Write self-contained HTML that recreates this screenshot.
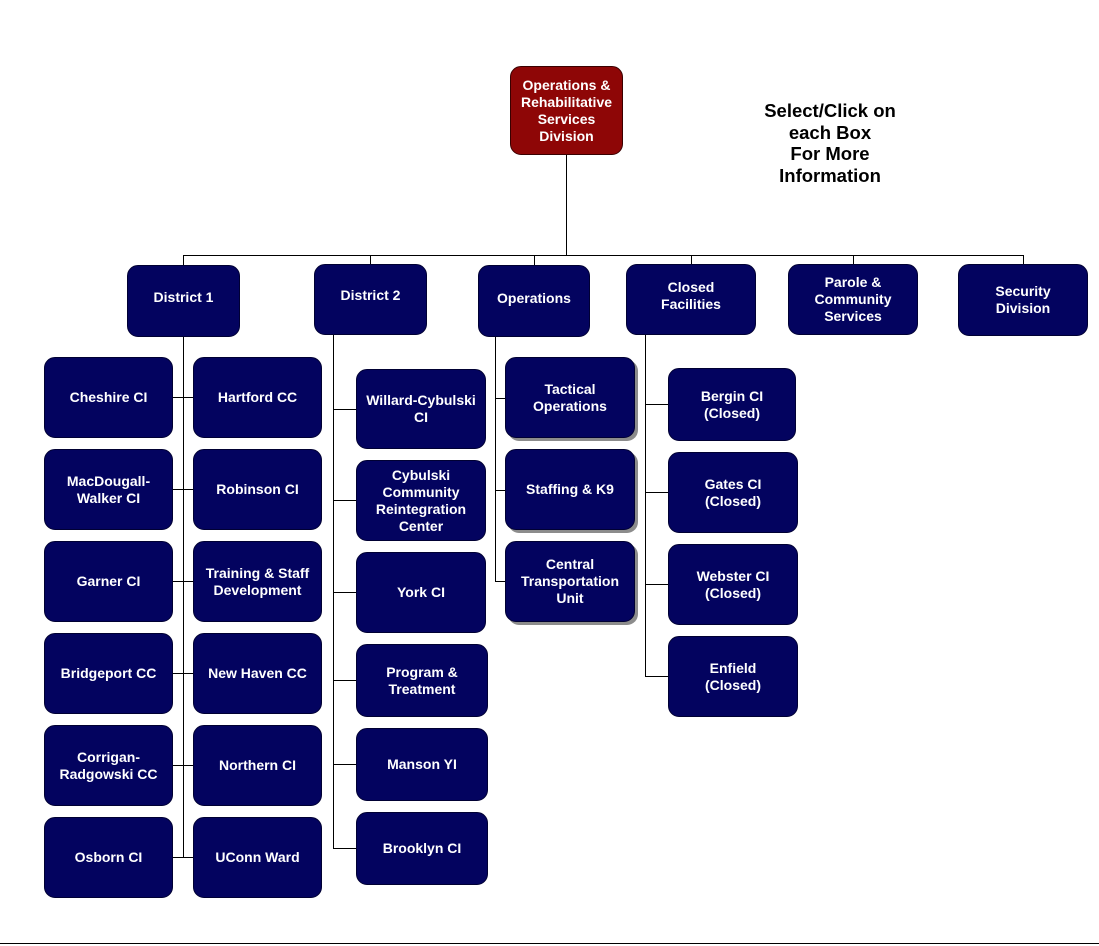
<!DOCTYPE html>
<html><head><style>
body{margin:0;width:1099px;height:946px;background:#fff;position:relative;overflow:hidden;font-family:"Liberation Sans",Arial,sans-serif}
.b{position:absolute;background:#03035f;color:#fff;border-radius:11px;display:flex;align-items:center;justify-content:center;text-align:center;font-weight:bold;font-size:14px;line-height:17px;box-sizing:border-box;border:1px solid #000033}
.s{box-shadow:3px 3px 0 #8c8c8c}
.l{position:absolute;background:#000}
.t{position:absolute;left:738px;top:100px;width:184px;text-align:center;font-weight:bold;font-size:18.5px;line-height:21.5px;color:#000}
</style></head><body>
<div class="l" style="left:566px;top:155px;width:1px;height:100px"></div>
<div class="l" style="left:183px;top:255px;width:841px;height:1px"></div>
<div class="l" style="left:183px;top:255px;width:1px;height:10px"></div>
<div class="l" style="left:370px;top:255px;width:1px;height:10px"></div>
<div class="l" style="left:534px;top:255px;width:1px;height:10px"></div>
<div class="l" style="left:691px;top:255px;width:1px;height:10px"></div>
<div class="l" style="left:853px;top:255px;width:1px;height:10px"></div>
<div class="l" style="left:1023px;top:255px;width:1px;height:10px"></div>
<div class="l" style="left:183px;top:337px;width:1px;height:521px"></div>
<div class="l" style="left:173px;top:397px;width:20px;height:1px"></div>
<div class="l" style="left:173px;top:489px;width:20px;height:1px"></div>
<div class="l" style="left:173px;top:581px;width:20px;height:1px"></div>
<div class="l" style="left:173px;top:673px;width:20px;height:1px"></div>
<div class="l" style="left:173px;top:765px;width:20px;height:1px"></div>
<div class="l" style="left:173px;top:857px;width:20px;height:1px"></div>
<div class="l" style="left:333px;top:335px;width:1px;height:514px"></div>
<div class="l" style="left:333px;top:409px;width:23px;height:1px"></div>
<div class="l" style="left:333px;top:500px;width:23px;height:1px"></div>
<div class="l" style="left:333px;top:592px;width:23px;height:1px"></div>
<div class="l" style="left:333px;top:680px;width:23px;height:1px"></div>
<div class="l" style="left:333px;top:764px;width:23px;height:1px"></div>
<div class="l" style="left:333px;top:848px;width:23px;height:1px"></div>
<div class="l" style="left:495px;top:337px;width:1px;height:244px"></div>
<div class="l" style="left:495px;top:398px;width:10px;height:1px"></div>
<div class="l" style="left:495px;top:490px;width:10px;height:1px"></div>
<div class="l" style="left:495px;top:581px;width:10px;height:1px"></div>
<div class="l" style="left:645px;top:335px;width:1px;height:342px"></div>
<div class="l" style="left:645px;top:404px;width:23px;height:1px"></div>
<div class="l" style="left:645px;top:492px;width:23px;height:1px"></div>
<div class="l" style="left:645px;top:584px;width:23px;height:1px"></div>
<div class="l" style="left:645px;top:676px;width:23px;height:1px"></div>
<div class="l" style="left:0;top:943px;width:1099px;height:1px"></div>

<div class="b" style="left:510px;top:66px;width:113px;height:89px;background:#8e0606;border:1px solid #3a0000">Operations &amp;<br>Rehabilitative<br>Services<br>Division</div>
<div class="t">Select/Click on<br>each Box<br>For More<br>Information</div>

<div class="b" style="left:127px;top:265px;width:113px;height:72px;padding-bottom:8px">District 1</div>
<div class="b" style="left:314px;top:264px;width:113px;height:71px;padding-bottom:8px">District 2</div>
<div class="b" style="left:478px;top:265px;width:112px;height:72px;padding-bottom:6px">Operations</div>
<div class="b" style="left:626px;top:264px;width:130px;height:71px;padding-bottom:8px">Closed<br>Facilities</div>
<div class="b" style="left:788px;top:264px;width:130px;height:71px">Parole &amp;<br>Community<br>Services</div>
<div class="b" style="left:958px;top:264px;width:130px;height:72px">Security<br>Division</div>

<div class="b" style="left:44px;top:357px;width:129px;height:81px">Cheshire CI</div>
<div class="b" style="left:44px;top:449px;width:129px;height:81px">MacDougall-<br>Walker CI</div>
<div class="b" style="left:44px;top:541px;width:129px;height:81px">Garner CI</div>
<div class="b" style="left:44px;top:633px;width:129px;height:81px">Bridgeport CC</div>
<div class="b" style="left:44px;top:725px;width:129px;height:81px">Corrigan-<br>Radgowski CC</div>
<div class="b" style="left:44px;top:817px;width:129px;height:81px">Osborn CI</div>

<div class="b" style="left:193px;top:357px;width:129px;height:81px">Hartford CC</div>
<div class="b" style="left:193px;top:449px;width:129px;height:81px">Robinson CI</div>
<div class="b" style="left:193px;top:541px;width:129px;height:81px">Training &amp; Staff<br>Development</div>
<div class="b" style="left:193px;top:633px;width:129px;height:81px">New Haven CC</div>
<div class="b" style="left:193px;top:725px;width:129px;height:81px">Northern CI</div>
<div class="b" style="left:193px;top:817px;width:129px;height:81px">UConn Ward</div>

<div class="b" style="left:356px;top:369px;width:130px;height:80px">Willard-Cybulski<br>CI</div>
<div class="b" style="left:356px;top:460px;width:130px;height:81px">Cybulski<br>Community<br>Reintegration<br>Center</div>
<div class="b" style="left:356px;top:552px;width:130px;height:81px">York CI</div>
<div class="b" style="left:356px;top:644px;width:132px;height:73px">Program &amp;<br>Treatment</div>
<div class="b" style="left:356px;top:728px;width:132px;height:73px">Manson YI</div>
<div class="b" style="left:356px;top:812px;width:132px;height:73px">Brooklyn CI</div>

<div class="b s" style="left:505px;top:357px;width:130px;height:81px">Tactical<br>Operations</div>
<div class="b s" style="left:505px;top:449px;width:130px;height:81px">Staffing &amp; K9</div>
<div class="b s" style="left:505px;top:541px;width:130px;height:81px">Central<br>Transportation<br>Unit</div>

<div class="b" style="left:668px;top:368px;width:128px;height:73px">Bergin CI<br>(Closed)</div>
<div class="b" style="left:668px;top:452px;width:130px;height:81px">Gates CI<br>(Closed)</div>
<div class="b" style="left:668px;top:544px;width:130px;height:81px">Webster CI<br>(Closed)</div>
<div class="b" style="left:668px;top:636px;width:130px;height:81px">Enfield<br>(Closed)</div>
</body></html>
